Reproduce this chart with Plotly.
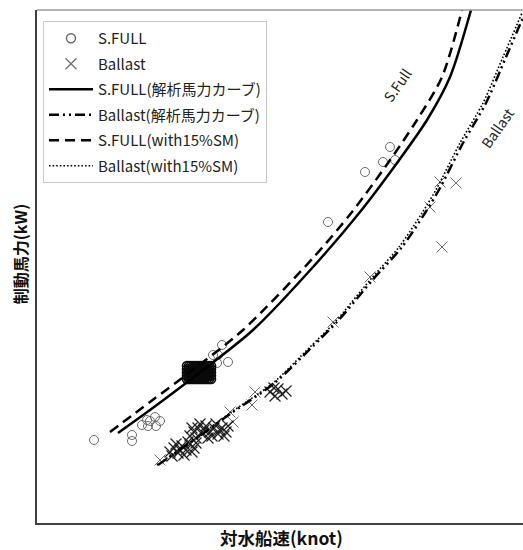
import plotly.graph_objects as go

# ---- data (speed in knots, brake power in kW) ----
# S.FULL measured points: scattered ones first, then the dense cluster near 11.0-11.5 kn
sfull_obs_speed = [9.14, 9.90, 9.90, 10.10, 10.20, 10.36, 10.46, 10.22, 10.38, 10.26,
                   11.52, 11.62, 11.70, 11.60, 11.82,
                   13.82, 14.56, 14.92, 15.06, 15.16,
                   11.00, 11.04, 11.08, 11.12, 11.16, 11.20, 11.24, 11.28, 11.32, 11.36, 11.40, 11.44, 11.48,
                   11.00, 11.04, 11.08, 11.12, 11.16, 11.20, 11.24, 11.28, 11.32, 11.36, 11.40, 11.44, 11.48,
                   11.00, 11.04, 11.08, 11.12, 11.16, 11.20, 11.24, 11.28, 11.32, 11.36, 11.40, 11.44, 11.48,
                   11.00, 11.04, 11.08, 11.12, 11.16, 11.20, 11.24, 11.28, 11.32, 11.36, 11.40, 11.44, 11.48,
                   11.00, 11.04, 11.08, 11.12, 11.16, 11.20, 11.24, 11.28, 11.32, 11.36, 11.40, 11.44, 11.48]
sfull_obs_power = [3320, 3280, 3520, 3920, 4120, 4240, 4080, 3880, 3880, 4080,
                   6720, 6720, 7120, 6400, 6440,
                   12040, 14040, 14440, 15040, 14520,
                   6280, 6280, 6280, 6280, 6280, 6280, 6280, 6280, 6280, 6280, 6280, 6280, 6280,
                   6150, 6150, 6150, 6150, 6150, 6150, 6150, 6150, 6150, 6150, 6150, 6150, 6150,
                   6020, 6020, 6020, 6020, 6020, 6020, 6020, 6020, 6020, 6020, 6020, 6020, 6020,
                   5890, 5890, 5890, 5890, 5890, 5890, 5890, 5890, 5890, 5890, 5890, 5890, 5890,
                   5760, 5760, 5760, 5760, 5760, 5760, 5760, 5760, 5760, 5760, 5760, 5760, 5760]
sfull_scattered_count = 20

# Ballast measured points: scattered ones first, then the dense clusters
ballast_obs_speed = [10.46, 11.86, 11.92, 12.36, 12.30, 13.92, 14.66, 15.86, 16.06, 16.38, 16.10,
                     12.66, 12.76, 12.82, 12.90, 12.98, 12.74,
                     10.66, 10.74, 10.82, 10.90, 10.98, 11.06, 11.14, 10.78, 10.94, 11.02, 10.70, 11.18, 10.86, 11.10,
                     11.06, 11.14, 11.22, 11.30, 11.38, 11.46, 11.54, 11.62, 11.70, 11.78,
                     11.26, 11.42, 11.58, 11.74, 11.34, 11.50, 11.66, 11.18, 11.82, 11.10]
ballast_obs_power = [2520, 4440, 4040, 5240, 4720, 8040, 9840, 12640, 13640, 13600, 11040,
                     5240, 5080, 5360, 5160, 5280, 5400,
                     2840, 3000, 2800, 3080, 2920, 3160, 3000, 3160, 2720, 3240, 2680, 3200, 2920, 2840,
                     3480, 3640, 3800, 3560, 3880, 3640, 3800, 3560, 3800, 3640,
                     3960, 3400, 3960, 3480, 3720, 3480, 3720, 3400, 3880, 3800]
ballast_scattered_count = 11

sfull_curve_speed = [9.62, 10.26, 11.06, 12.32, 13.52, 14.46, 15.20, 15.80, 16.26, 16.68]
sfull_curve_power = [3600, 4520, 5720, 7720, 10240, 12440, 14400, 16120, 17840, 20520]

sfull_sm_speed = [9.46, 10.26, 11.06, 12.12, 13.52, 14.30, 15.02, 15.60, 16.10, 16.50]
sfull_sm_power = [3640, 4840, 6040, 7720, 10600, 12440, 14400, 16120, 17840, 20520]

ballast_curve_speed = [10.42, 11.28, 11.89, 12.75, 13.50, 14.00, 14.71, 15.30, 15.76, 16.06, 16.52, 16.98, 17.38, 17.76]
ballast_curve_power = [2320, 3520, 4400, 5600, 7040, 8040, 9720, 11040, 12400, 13400, 15200, 16800, 18640, 20400]

ballast_sm_speed = [10.40, 11.26, 11.86, 12.72, 13.46, 13.96, 14.66, 15.24, 15.70, 16.00, 16.46, 16.92, 17.32, 17.70]
ballast_sm_power = [2320, 3520, 4400, 5600, 7040, 8040, 9720, 11040, 12400, 13400, 15200, 16800, 18640, 20400]

x_range = [8.0, 17.72]
y_range = [0, 20520]

FONT = "Noto Sans CJK JP"
MK_LIGHT = "#6a6a6a"
MK_DARK = "#0a0a0a"

n_sf = len(sfull_obs_speed)
n_bl = len(ballast_obs_speed)
sfull_colors = [MK_LIGHT if i < sfull_scattered_count else MK_DARK for i in range(n_sf)]
sfull_lw = [1 if i < sfull_scattered_count else 1.6 for i in range(n_sf)]
ballast_colors = [MK_LIGHT if i < ballast_scattered_count else "#222222" for i in range(n_bl)]
ballast_lw = [1 if i < ballast_scattered_count else 1.2 for i in range(n_bl)]

fig = go.Figure()
fig.add_trace(go.Scatter(x=sfull_obs_speed, y=sfull_obs_power, mode="markers", name="S.FULL", legendgroup="a",
                         marker=dict(symbol="circle-open", size=9, color=sfull_colors, line=dict(width=sfull_lw))))
fig.add_trace(go.Scatter(x=ballast_obs_speed, y=ballast_obs_power, mode="markers", name="Ballast", legendgroup="b",
                         marker=dict(symbol="x-thin-open", size=11, color=ballast_colors, line=dict(width=ballast_lw))))
fig.add_trace(go.Scatter(x=sfull_curve_speed, y=sfull_curve_power, mode="lines", name="S.FULL(解析馬力カーブ)",
                         legendgroup="c",
                         line=dict(color="black", width=2.5, shape="spline", smoothing=0.8)))
fig.add_trace(go.Scatter(x=ballast_curve_speed, y=ballast_curve_power, mode="lines", name="Ballast(解析馬力カーブ)",
                         legendgroup="d",
                         line=dict(color="black", width=2.5, dash="10px,4px,2px,4px,2px,4px", shape="spline", smoothing=0.8)))
fig.add_trace(go.Scatter(x=sfull_sm_speed, y=sfull_sm_power, mode="lines", name="S.FULL(with15%SM)",
                         legendgroup="e",
                         line=dict(color="black", width=2.5, dash="10px,6px", shape="spline", smoothing=0.8)))
fig.add_trace(go.Scatter(x=ballast_sm_speed, y=ballast_sm_power, mode="lines", name="Ballast(with15%SM)",
                         legendgroup="f",
                         line=dict(color="black", width=1.6, dash="1.6px,2px", shape="spline", smoothing=0.8)))

fig.update_layout(
    width=523, height=550,
    margin=dict(l=37, r=0, t=10, b=27),
    paper_bgcolor="white", plot_bgcolor="white",
    font=dict(family=FONT, color="#222"),
    showlegend=True,
    legend=dict(x=0.0123, y=0.9786, xanchor="left", yanchor="top",
                bgcolor="white", bordercolor="#c8c8c8", borderwidth=1,
                tracegroupgap=3, itemwidth=44,
                font=dict(family=FONT, size=15, color="#222")),
    xaxis=dict(range=x_range, showticklabels=False, ticks="", showgrid=False, zeroline=False,
               showline=True, linecolor="#404040", linewidth=1.5),
    yaxis=dict(range=y_range, showticklabels=False, ticks="", showgrid=False, zeroline=False,
               showline=True, linecolor="#404040", linewidth=1.5),
    shapes=[dict(type="line", xref="paper", yref="paper", x0=0, x1=1, y0=1, y1=1,
                 line=dict(color="#9a9a9a", width=1.5))],
    annotations=[
        dict(text="<b>対水船速(knot)</b>", xref="paper", yref="paper", x=0.504, y=-0.0292,
             showarrow=False, xanchor="center", yanchor="middle", font=dict(family=FONT, size=17.5, color="#111")),
        dict(text="<b>制動馬力(kW)</b>", xref="paper", yref="paper", x=-0.035, y=0.524,
             showarrow=False, textangle=-90, xanchor="center", yanchor="middle", font=dict(family=FONT, size=16, color="#111")),
        dict(text="S.Full", x=15.2, y=17520, showarrow=False, textangle=-55,
             font=dict(family=FONT, size=14, color="#222")),
        dict(text="Ballast", x=17.2, y=15800, showarrow=False, textangle=-55,
             font=dict(family=FONT, size=14, color="#222")),
    ],
)

fig.write_html("out.html")
